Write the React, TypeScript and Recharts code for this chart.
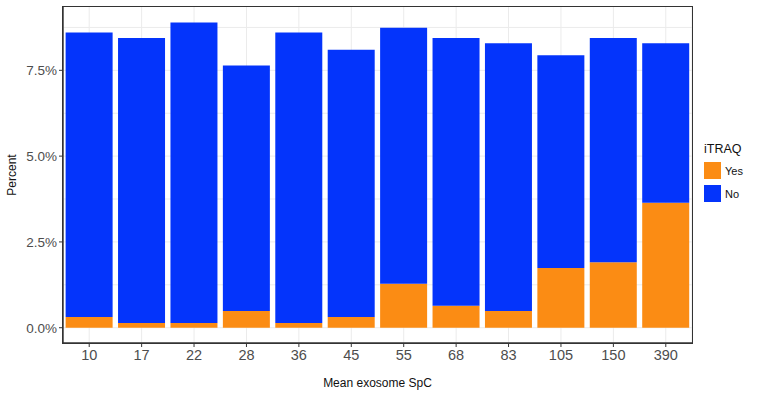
import React from 'react';
import { BarChart, Bar, XAxis, YAxis, CartesianGrid } from 'recharts';

const categories = ['10', '17', '22', '28', '36', '45', '55', '68', '83', '105', '150', '390'];
const yesValues = [0.31, 0.14, 0.14, 0.49, 0.14, 0.31, 1.28, 0.64, 0.49, 1.74, 1.91, 3.64];
const noValues = [8.29, 8.3, 8.75, 7.15, 8.46, 7.79, 7.46, 7.8, 7.8, 6.2, 6.53, 4.65];
const yTicks = [0, 2.5, 5, 7.5];
const gridLines = [0, 1.25, 2.5, 3.75, 5, 6.25, 7.5, 8.75];

const data = categories.map((name, i) => ({ name, yes: yesValues[i], no: noValues[i] }));

const ORANGE = '#FB8C14';
const BLUE = '#0434FB';
const FONT = '"Liberation Sans", Arial, sans-serif';

// plot panel box (matches chart margins + axis sizes below)
const PANEL = { left: 63, top: 7, width: 629, height: 336 };

const App = () => {
  return (
    <div style={{ position: 'absolute', left: 0, top: 0, width: 767, height: 401, background: '#fff', fontFamily: FONT }}>
      <BarChart
        width={767}
        height={401}
        data={data}
        margin={{ top: 7, right: 75, bottom: 0, left: 0 }}
        barCategoryGap="5%"
      >
        <CartesianGrid stroke="#ebebeb" horizontalValues={gridLines} />
        <XAxis
          dataKey="name"
          height={58}
          tickSize={4}
          tickMargin={3}
          tick={{ fill: '#4d4d4d', fontSize: 14.5, fontFamily: FONT }}
          axisLine={{ stroke: '#333', strokeWidth: 1.4 }}
          tickLine={{ stroke: '#333' }}
          label={{ value: 'Mean exosome SpC', position: 'insideBottom', offset: 14, fill: '#111', fontSize: 12, fontFamily: FONT }}
        />
        <YAxis
          width={63}
          domain={[-0.445, 9.345]}
          allowDataOverflow
          ticks={yTicks}
          tickSize={4}
          tickMargin={2}
          tickFormatter={(v: number) => v.toFixed(1) + '%'}
          tick={{ fill: '#4d4d4d', fontSize: 13.5, fontFamily: FONT }}
          axisLine={{ stroke: '#333', strokeWidth: 1.4 }}
          tickLine={{ stroke: '#333' }}
        />
        <Bar dataKey="yes" stackId="a" fill={ORANGE} isAnimationActive={false} />
        <Bar dataKey="no" stackId="a" fill={BLUE} isAnimationActive={false} />
      </BarChart>
      <div
        style={{
          position: 'absolute',
          left: PANEL.left - 1,
          top: PANEL.top - 1,
          width: PANEL.width,
          height: PANEL.height,
          border: '1.4px solid #333',
          pointerEvents: 'none',
        }}
      />
      <div
        style={{
          position: 'absolute',
          left: 12,
          top: 175,
          transform: 'translate(-50%, -50%) rotate(-90deg)',
          fontSize: 12,
          color: '#111',
          whiteSpace: 'nowrap',
        }}
      >
        Percent
      </div>
      <div style={{ position: 'absolute', left: 704, top: 142, fontSize: 12.5, color: '#111' }}>
        <div style={{ marginBottom: 3 }}>iTRAQ</div>
        {[
          { label: 'Yes', color: ORANGE },
          { label: 'No', color: BLUE },
        ].map((item) => (
          <div key={item.label} style={{ display: 'flex', alignItems: 'center', height: 23 }}>
            <div style={{ width: 17, height: 17, background: item.color, marginRight: 4 }} />
            <span style={{ fontSize: 11 }}>{item.label}</span>
          </div>
        ))}
      </div>
    </div>
  );
};

export default App;
